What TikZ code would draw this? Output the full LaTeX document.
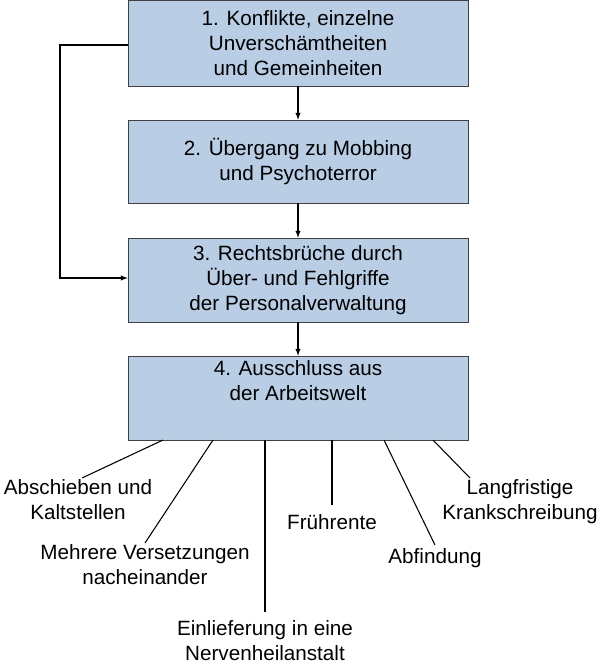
\documentclass[tikz,border=0pt]{standalone}
\usepackage{fontspec}
\setmainfont{Liberation Sans}
\begin{document}
\begin{tikzpicture}[x=0.75pt,y=-0.75pt,
  box/.style={draw=black!75,fill={rgb,255:red,185;green,205;blue,229},minimum width=255pt,inner sep=0pt,align=center,font=\fontsize{15.5}{18.5}\selectfont},
  lbl/.style={align=center,anchor=north,inner sep=1pt,font=\fontsize{15.5}{18.5}\selectfont},
  arr/.style={-latex,thick},ln/.style={thick}]
\useasboundingbox (0,0) rectangle (600,664);
\node[box,minimum height=64.5pt] (b1) at (298,43) {1. Konflikte, einzelne\\Unverschämtheiten\\und Gemeinheiten};
\node[box,minimum height=62.25pt] (b2) at (298,161.5) {2. Übergang zu Mobbing\\und Psychoterror};
\node[box,minimum height=63pt] (b3) at (298,280) {3. Rechtsbrüche durch\\Über- und Fehlgriffe\\der Personalverwaltung};
\node[box,minimum height=63pt] (b4) at (298,398) {4. Ausschluss aus\\der Arbeitswelt\\[8pt]};
\draw[arr] (b1) -- (b2);
\draw[arr] (b2) -- (b3);
\draw[arr] (b3) -- (b4);
\draw[arr] (b1.west |- 0,45) -| (60,278) -- (b3.west |- 0,278);
\node[lbl] (t1) at (78,478) {Abschieben und\\Kaltstellen};
\node[lbl] (t2) at (145,543) {Mehrere Versetzungen\\nacheinander};
\node[lbl] (t3) at (265,619) {Einlieferung in eine\\Nervenheilanstalt};
\node[lbl] (t4) at (332,513) {Frührente};
\node[lbl] (t5) at (435,547) {Abfindung};
\node[lbl] (t6) at (520,478) {Langfristige\\Krankschreibung};
\draw[ln] (163,440) -- (82,478);
\draw[ln] (213,440) -- (145,543);
\draw[ln] (265,440) -- (265,612);
\draw[ln] (332,440) -- (332,505);
\draw[ln] (384,440) -- (435,545);
\draw[ln] (433,440) -- (470,478);
\end{tikzpicture}
\end{document}
